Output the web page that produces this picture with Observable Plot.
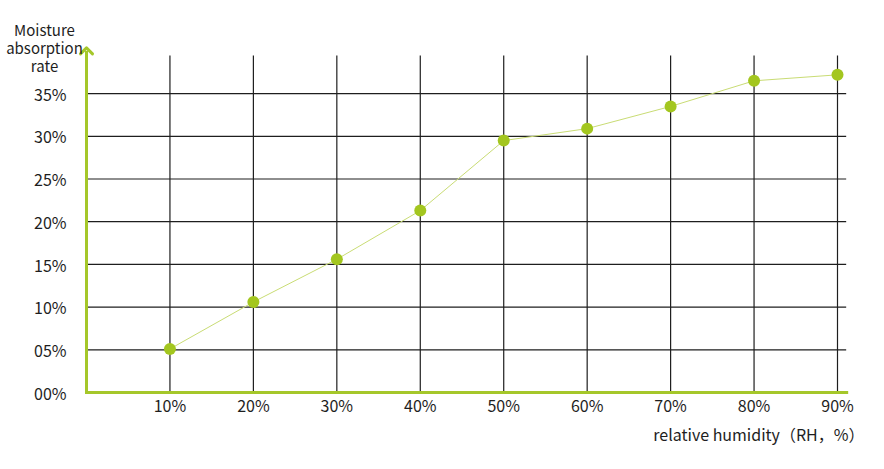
<!DOCTYPE html>
<html><head><meta charset="utf-8">
<script src="https://cdn.jsdelivr.net/npm/d3@7"></script>
<script src="https://cdn.jsdelivr.net/npm/@observablehq/plot@0.6"></script>
<style>body{margin:0;background:#fff}</style>
</head><body><div id="chart"></div>
<script>
const xTicks = [0.1, 0.2, 0.3, 0.4, 0.5, 0.6, 0.7, 0.8, 0.9];
const xTickLabels = ["10%", "20%", "30%", "40%", "50%", "60%", "70%", "80%", "90%"];
const yTicks = [0, 0.05, 0.10, 0.15, 0.20, 0.25, 0.30, 0.35];
const yTickLabels = ["00%", "05%", "10%", "15%", "20%", "25%", "30%", "35%"];
const humidity = [0.1, 0.2, 0.3, 0.4, 0.5, 0.6, 0.7, 0.8, 0.9];
const absorption = [0.051, 0.106, 0.156, 0.213, 0.295, 0.309, 0.335, 0.365, 0.372];
const xTitle = "relative humidity（RH，%）";
const yTitle = "Moisture\nabsorption\nrate";

const data = humidity.map((h, i) => ({humidity: h, absorption: absorption[i]}));
const green = "#a5c72a";
const gridColor = "#1e1e1e";

const chart = Plot.plot({
  width: 884,
  height: 469,
  marginLeft: 86,
  marginRight: 38,
  marginTop: 47,
  marginBottom: 77,
  x: {domain: [0, 0.9], range: [86, 837], label: null},
  y: {domain: [0, 0.404], label: null},
  style: {fontFamily: '"Noto Sans CJK SC", "Noto Sans", sans-serif', fontSize: "16px", color: "#1e1e1e", background: "#fff"},
  marks: [
    Plot.ruleY(yTicks.filter(d => d > 0), {x1: 0, x2: 0.911, stroke: gridColor, strokeWidth: 1.2}),
    Plot.ruleX(xTicks, {y1: 0, y2: 0.394, stroke: gridColor, strokeWidth: 1.2}),
    Plot.link([0], {x1: 0, x2: 0.911, y1: 0, y2: 0, stroke: green, strokeWidth: 3, strokeLinecap: "square"}),
    Plot.link([0], {x1: 0, x2: 0, y1: 0, y2: 0.40, stroke: green, strokeWidth: 3, markerEnd: "arrow"}),
    Plot.line(data, {x: "humidity", y: "absorption", stroke: "#c9dc74", strokeWidth: 1}),
    Plot.dot(data, {x: "humidity", y: "absorption", r: 6, fill: "#a3c61f", stroke: "none"}),
    Plot.axisY(yTicks, {tickFormat: d => yTickLabels[yTicks.indexOf(d)], tickSize: 0, tickPadding: 20, fontSize: 16, dy: 2, label: null, fill: "#1e1e1e"}),
    Plot.axisX(xTicks, {tickFormat: d => xTickLabels[xTicks.indexOf(d)], tickSize: 0, tickPadding: 8, fontSize: 16, label: null, fill: "#1e1e1e"}),
    Plot.text([yTitle], {frameAnchor: "top-left", dx: -42, dy: -23.5, textAnchor: "middle", lineAnchor: "top", lineHeight: 1.17, fontSize: 15, fill: "#1e1e1e"}),
    Plot.text([xTitle], {frameAnchor: "bottom-right", dx: 18, dy: 43, textAnchor: "end", lineAnchor: "middle", fontSize: 16, fill: "#1e1e1e"})
  ]
});
document.getElementById("chart").appendChild(chart);
</script></body></html>
